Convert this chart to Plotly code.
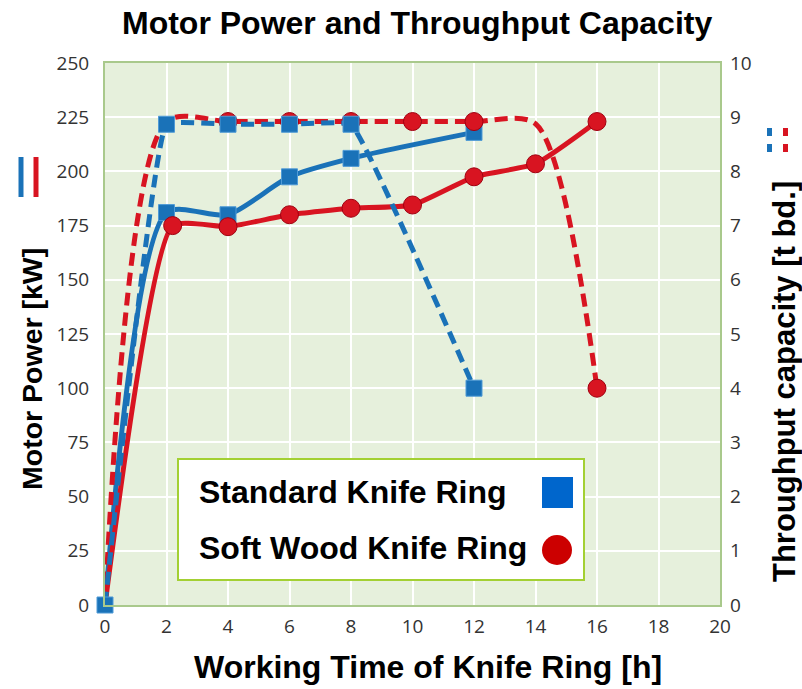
import plotly.graph_objects as go

# ---------------- data ----------------
hours_std_power = [0, 2, 4, 6, 8, 12]
std_power_kw = [0, 181, 180, 197.5, 206, 218]

hours_soft_power = [0, 2.2, 4, 6, 8, 10, 12, 14, 16]
soft_power_kw = [0, 175, 174.5, 180, 183, 184.5, 197.5, 203.5, 223]

hours_std_tp = [0, 2, 4, 6, 8, 12]
std_throughput = [0, 8.87, 8.87, 8.87, 8.87, 4.0]

hours_soft_tp = [0, 2, 4, 6, 8, 10, 12, 14, 16]
soft_throughput = [0, 8.92, 8.92, 8.92, 8.92, 8.92, 8.92, 8.88, 4.0]

x_ticks = list(range(0, 21, 2))
y_ticks = list(range(0, 251, 25))
y2_ticks = list(range(0, 11))

series_names = ["Standard Knife Ring", "Soft Wood Knife Ring"]

# ---------------- layout geometry ----------------
W, H = 802, 689
L, R, T, B = 105, 720, 63, 605


def px(x):
    return (x - L) / (R - L)


def py(y):
    return (B - y) / (B - T)


BLUE = "#1a72b8"
RED = "#d81421"
BLUE_LEG = "#0066cc"
RED_LEG = "#cc0000"

fig = go.Figure()

# solid lines: motor power (left axis)
fig.add_trace(go.Scatter(
    x=hours_std_power, y=std_power_kw, mode="lines+markers",
    line=dict(color=BLUE, width=5, shape="spline", smoothing=0.7),
    marker=dict(symbol="square", size=[0] + [16] * (len(hours_std_power) - 1),
                opacity=1, color=BLUE, line=dict(color="#4f9ad6", width=1)),
    cliponaxis=False, showlegend=False, name=series_names[0]))

fig.add_trace(go.Scatter(
    x=hours_soft_power, y=soft_power_kw, mode="lines+markers",
    line=dict(color=RED, width=5, shape="spline", smoothing=0.5),
    marker=dict(symbol="circle", size=[0] + [18] * (len(hours_soft_power) - 1),
                opacity=1, color=RED, line=dict(color="#a00010", width=1)),
    cliponaxis=False, showlegend=False, name=series_names[1]))

# dashed lines: throughput (right axis)
soft_tp_sizes = [0 if h in (0, 2, 14) else 18 for h in hours_soft_tp]
fig.add_trace(go.Scatter(
    x=hours_soft_tp, y=soft_throughput, mode="lines+markers", yaxis="y2",
    line=dict(color=RED, width=5, shape="spline", smoothing=0.8, dash="13px,7px"),
    marker=dict(symbol="circle", size=soft_tp_sizes, opacity=1,
                color=RED, line=dict(color="#a00010", width=1)),
    cliponaxis=False, showlegend=False, name=series_names[1]))

fig.add_trace(go.Scatter(
    x=hours_std_tp, y=std_throughput, mode="lines+markers", yaxis="y2",
    line=dict(color=BLUE, width=5, shape="spline", smoothing=0.25, dash="13px,7px"),
    marker=dict(symbol="square", size=16, color=BLUE, opacity=1,
                line=dict(color="#4f9ad6", width=1)),
    cliponaxis=False, showlegend=False, name=series_names[0]))

tick_font = dict(family="Open Sans, DejaVu Sans, sans-serif", size=19, color="#333333")
BORDER = "#a9c98c"

fig.update_layout(
    width=W, height=H,
    margin=dict(l=L, r=W - R, t=T, b=H - B),
    paper_bgcolor="white",
    plot_bgcolor="#e6f0dc",
    showlegend=False,
    xaxis=dict(range=[0, 20], tickvals=x_ticks, showgrid=True, gridcolor="white",
               gridwidth=2, zeroline=False, showline=True, linecolor=BORDER,
               linewidth=2, mirror=True, tickfont=tick_font, ticks="",
               ticklabelstandoff=3, fixedrange=True),
    yaxis=dict(range=[0, 250], tickvals=y_ticks, showgrid=True, gridcolor="white",
               gridwidth=2, zeroline=False, showline=True, linecolor=BORDER,
               linewidth=2, mirror=True, tickfont=tick_font, ticks="",
               ticklabelstandoff=10),
    yaxis2=dict(range=[0, 10], tickvals=y2_ticks, overlaying="y", side="right",
                showgrid=False, zeroline=False, showline=False,
                tickfont=tick_font, ticks="", ticklabelstandoff=9),
)

TITLE_FONT = "Liberation Sans, Arial, Helvetica, sans-serif"

annotations = [
    dict(text="<b>Motor Power and Throughput Capacity</b>", x=px(417), y=py(23),
         font=dict(family=TITLE_FONT, size=32, color="black")),
    dict(text="<b>Working Time of Knife Ring [h]</b>", x=px(428), y=py(667),
         font=dict(family=TITLE_FONT, size=32, color="black")),
    dict(text="<b>Motor Power [kW]</b>", x=px(32), y=py(369), textangle=-90,
         font=dict(family=TITLE_FONT, size=28.5, color="black")),
    dict(text="<b>Throughput capacity [t bd.]</b>", x=px(784), y=py(382), textangle=-90,
         font=dict(family=TITLE_FONT, size=31, color="black")),
    dict(text="<b>" + series_names[0] + "</b>", x=px(197), y=py(492), xanchor="left",
         font=dict(family=TITLE_FONT, size=32, color="black")),
    dict(text="<b>" + series_names[1] + "</b>", x=px(197), y=py(548), xanchor="left",
         font=dict(family=TITLE_FONT, size=32, color="black")),
]
for a in annotations:
    a.setdefault("xanchor", "center")
    a.update(xref="paper", yref="paper", yanchor="middle", showarrow=False)
fig.update_layout(annotations=annotations)

shapes = [
    # legend box
    dict(type="rect", x0=px(178), x1=px(584), y0=py(459), y1=py(580),
         fillcolor="white", line=dict(color="#a3d033", width=2), layer="above"),
    dict(type="rect", x0=px(542), x1=px(573), y0=py(477), y1=py(508),
         fillcolor=BLUE_LEG, line=dict(width=0), layer="above"),
    dict(type="circle", x0=px(542), x1=px(572), y0=py(535), y1=py(565),
         fillcolor=RED_LEG, line=dict(width=0), layer="above"),
    # left axis title icon (solid lines)
    dict(type="line", x0=px(21), x1=px(21), y0=py(157), y1=py(197),
         line=dict(color=BLUE, width=5)),
    dict(type="line", x0=px(36), x1=px(36), y0=py(157), y1=py(197),
         line=dict(color=RED, width=5)),
]
# right axis title icon (dashed lines)
for xc, col in ((769.5, BLUE), (785.5, RED)):
    for y0, y1 in ((128, 136), (144, 152)):
        shapes.append(dict(type="line", x0=px(xc), x1=px(xc), y0=py(y0), y1=py(y1),
                           line=dict(color=col, width=5)))
for s in shapes:
    s.update(xref="paper", yref="paper")
fig.update_layout(shapes=shapes)

fig.write_html("out.html", config={"displayModeBar": False},
               post_script="document.body.style.margin='0';")
